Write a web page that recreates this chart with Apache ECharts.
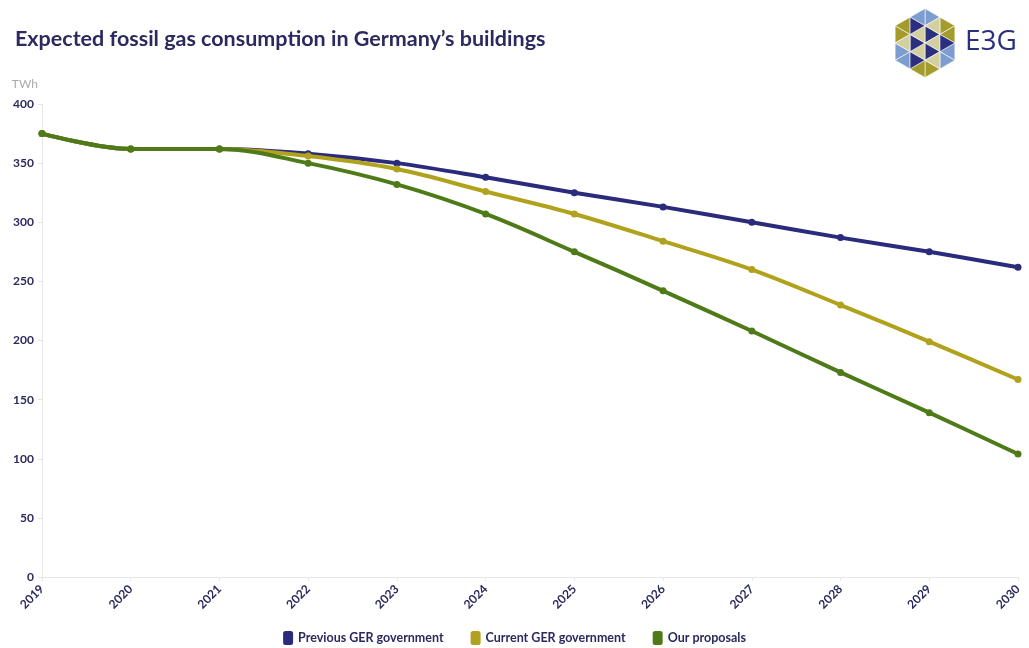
<!DOCTYPE html>
<html>
<head>
<meta charset="utf-8">
<script src="https://cdn.jsdelivr.net/npm/echarts@6/dist/echarts.min.js"></script>
<style>
  html, body { margin: 0; padding: 0; background: #ffffff; }
  #chart { width: 1029px; height: 648px; }
</style>
</head>
<body>
<div id="chart"></div>
<script>
// Years on the x axis
const years = ['2019', '2020', '2021', '2022', '2023', '2024', '2025', '2026', '2027', '2028', '2029', '2030'];

// Fossil gas consumption in buildings, TWh
const previousGov = [375, 362, 362, 358, 350, 338, 325, 313, 300, 287, 275, 262];
const currentGov  = [375, 362, 362, 356, 345, 326, 307, 284, 260, 230, 199, 167];
const proposals   = [375, 362, 362, 350, 332, 307, 275, 242, 208, 173, 139, 104];

const seriesNames = ['Previous GER government', 'Current GER government', 'Our proposals'];
const colors = ['#2a2b7c', '#b0a21c', '#4e7a17'];

const navy = '#2b2a5e';

// Logo: pointy-top hexagon split into 24 small triangles
function hexLogo(cx, cy, r) {
  const V = [];
  for (let i = 0; i < 6; i++) {
    const a = (-90 + 60 * i) * Math.PI / 180;
    V.push([cx + r * Math.cos(a), cy + r * Math.sin(a)]);
  }
  const C = [cx, cy];
  const mid = (p, q) => [(p[0] + q[0]) / 2, (p[1] + q[1]) / 2];
  const palette = {
    n: '#2b2f7e', b: '#7d9ccf', o: '#a39b2c', e: '#d3cf9f'
  };
  // colour codes per big sector: [centre, outer-left, outer-right, middle]
  const pattern = [
    ['n', 'b', 'o', 'e'],
    ['e', 'o', 'b', 'n'],
    ['n', 'b', 'o', 'e'],
    ['e', 'o', 'b', 'n'],
    ['n', 'b', 'o', 'e'],
    ['e', 'o', 'b', 'n']
  ];
  const els = [];
  for (let i = 0; i < 6; i++) {
    const A = V[i], B = V[(i + 1) % 6];
    const M0 = mid(C, A), M1 = mid(A, B), M2 = mid(C, B);
    const tris = [[C, M0, M2], [M0, A, M1], [M2, M1, B], [M0, M1, M2]];
    tris.forEach((t, k) => {
      els.push({
        type: 'polygon',
        shape: { points: t },
        style: { fill: palette[pattern[i][k]], stroke: '#ffffff', lineWidth: 0.6 },
        silent: true
      });
    });
  }
  return els;
}

const chart = echarts.init(document.getElementById('chart'), null, { renderer: 'canvas' });

const makeSeries = (name, data, color, z) => ({
  name: name,
  type: 'line',
  data: data,
  smooth: 0.35,
  symbol: 'circle',
  symbolSize: 7,
  z: z,
  lineStyle: { width: 4, color: color },
  itemStyle: { color: color },
  emphasis: { disabled: true }
});

chart.setOption({
  animation: false,
  backgroundColor: '#ffffff',
  textStyle: { fontFamily: 'Lato' },
  title: {
    text: 'Expected fossil gas consumption in Germany\u2019s buildings',
    left: 10,
    top: 23,
    textStyle: { fontFamily: 'Lato', fontWeight: 'bold', fontSize: 21.5, color: navy }
  },
  legend: {
    top: 626,
    left: 'center',
    itemWidth: 10,
    itemHeight: 14,
    itemGap: 27,
    icon: 'roundRect',
    data: seriesNames,
    textStyle: { fontFamily: 'Lato', fontWeight: 'bold', fontSize: 12.5, color: navy }
  },
  grid: { left: 42, right: 11, top: 104, bottom: 71, containLabel: false },
  xAxis: {
    type: 'category',
    data: years,
    boundaryGap: false,
    axisLine: { lineStyle: { color: '#e6e6e6', width: 1 } },
    axisTick: { show: true, alignWithLabel: true, length: 4, lineStyle: { color: '#e6e6e6' } },
    axisLabel: {
      rotate: 45,
      margin: 10,
      fontFamily: 'Lato',
      fontWeight: 'bold',
      fontSize: 12,
      color: navy
    },
    splitLine: { show: false }
  },
  yAxis: {
    type: 'value',
    min: 0,
    max: 400,
    interval: 50,
    name: 'TWh',
    nameLocation: 'end',
    nameGap: 14,
    nameTextStyle: { fontFamily: 'Lato', fontSize: 12, color: '#aaaaaa', align: 'right', padding: [0, 4, 0, 0] },
    axisLine: { show: true, lineStyle: { color: '#e6e6e6', width: 1 } },
    axisTick: { show: true, length: 4, lineStyle: { color: '#e6e6e6' } },
    axisLabel: { fontFamily: 'Lato', fontWeight: 'bold', fontSize: 12, color: navy, margin: 8 },
    splitLine: { show: false }
  },
  series: [
    makeSeries(seriesNames[0], previousGov, colors[0], 3),
    makeSeries(seriesNames[1], currentGov, colors[1], 4),
    makeSeries(seriesNames[2], proposals, colors[2], 5)
  ],
  graphic: hexLogo(925, 43, 34.5).concat([
    {
      type: 'text',
      left: 965,
      top: 28,
      style: { text: 'E3G', fontFamily: 'Open Sans', fontSize: 28, fill: '#2b2f7e' },
      silent: true
    }
  ])
});
</script>
</body>
</html>
